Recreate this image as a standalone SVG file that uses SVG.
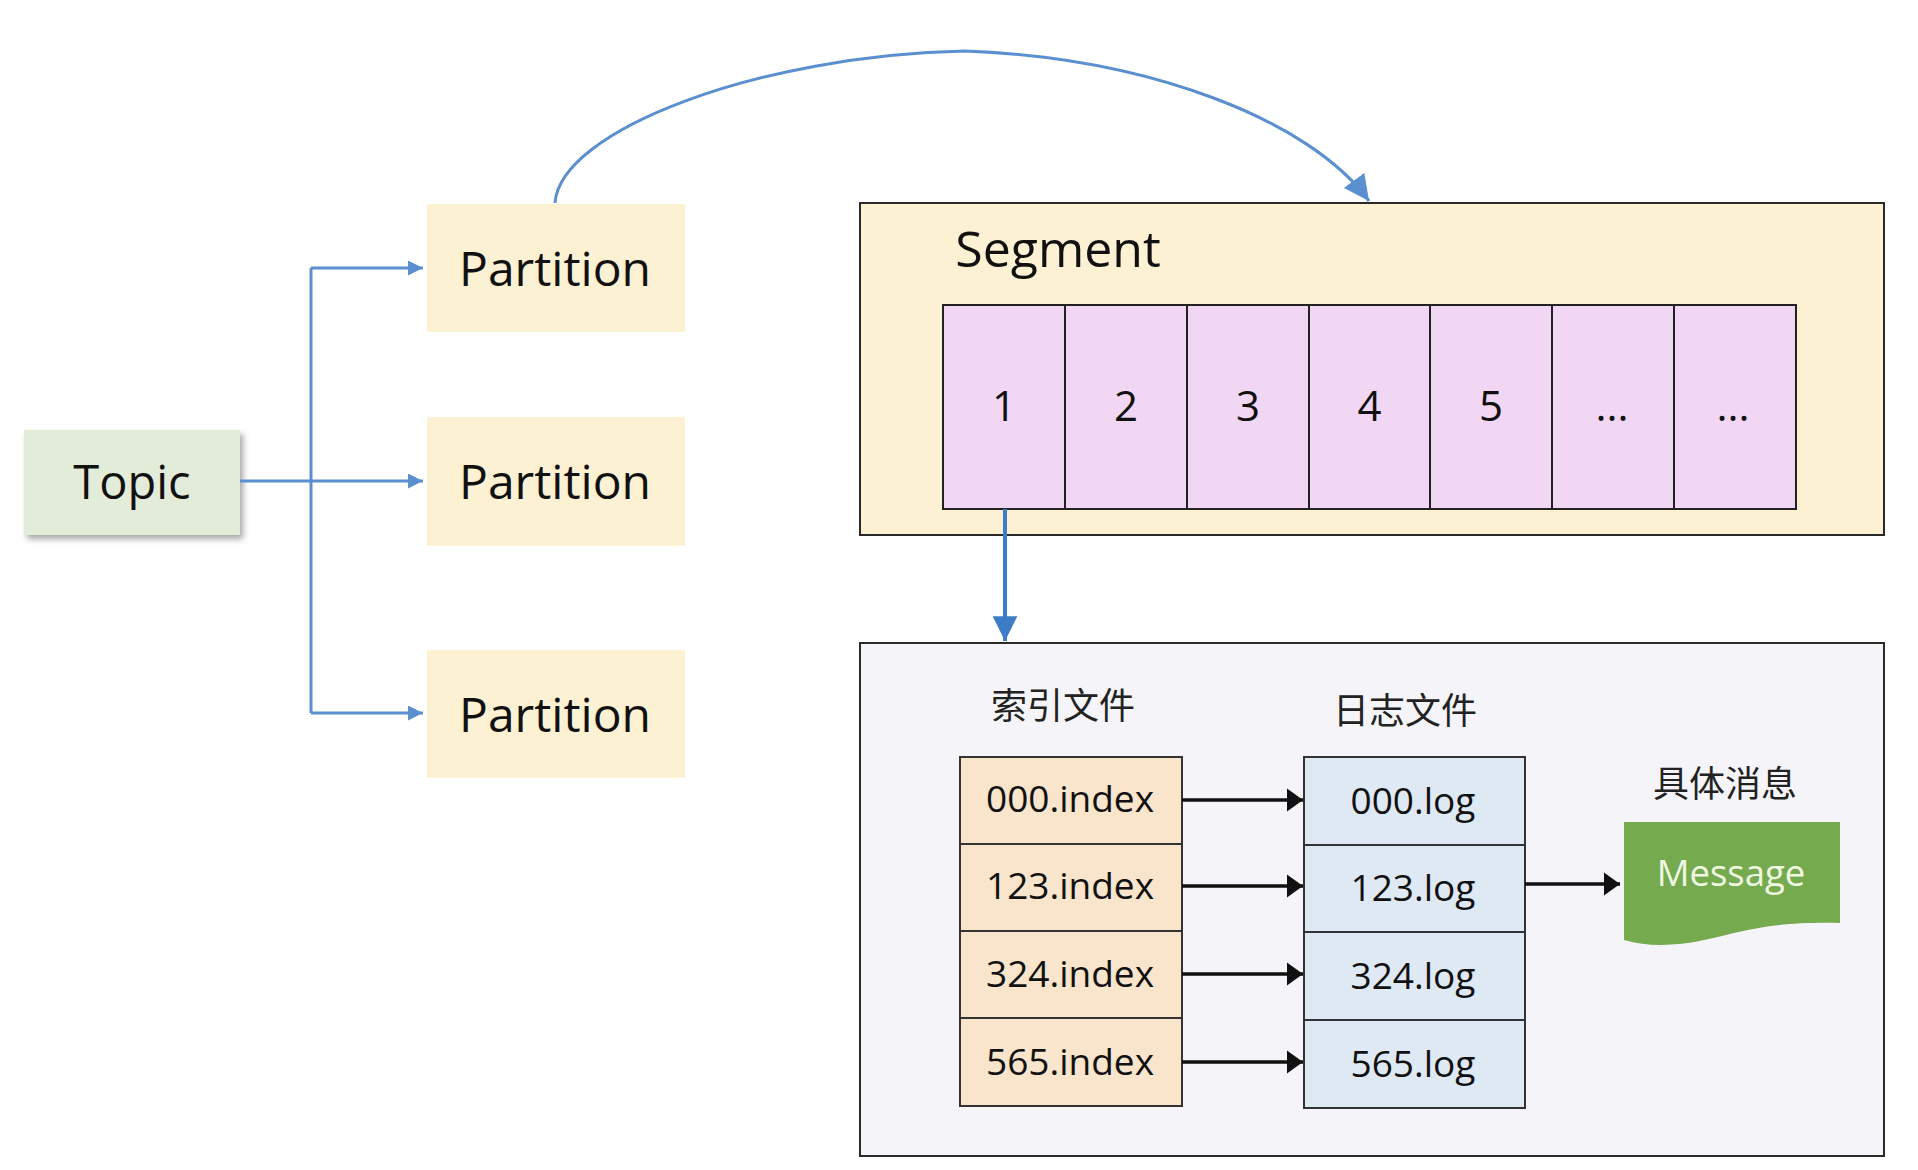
<svg xmlns="http://www.w3.org/2000/svg" width="1918" height="1170" viewBox="0 0 1918 1170">
<style>
.lat{font-family:"Open Sans","Noto Sans","Liberation Sans",sans-serif;fill:#111;text-anchor:middle}
.cjk{font-family:"Noto Sans CJK SC","Noto Sans",sans-serif;fill:#222;text-anchor:middle;font-size:36px}
.part{fill:#fdf1d3}
.cell{fill:#f2d7f4;stroke:#222;stroke-width:2}
.idx{fill:#f9e4cc;stroke:#333;stroke-width:2}
.log{fill:#dfe9f4;stroke:#333;stroke-width:2}
.blue{fill:none;stroke:#5b8fd0;stroke-width:3}
.blk{fill:none;stroke:#111;stroke-width:3.5}
</style>
<defs>
<marker id="ab" viewBox="0 0 10 10" refX="10" refY="5" markerWidth="5" markerHeight="5" markerUnits="strokeWidth" orient="auto"><path d="M0,0 L10,5 L0,10 z" fill="#5b8fd0"/></marker>
<marker id="abig" viewBox="0 0 10 10" refX="10" refY="5" markerWidth="8.5" markerHeight="8.5" markerUnits="strokeWidth" orient="auto"><path d="M0,0 L10,5 L0,10 z" fill="#5b8fd0"/></marker>
<marker id="adown" viewBox="0 0 10 10" refX="10" refY="5" markerWidth="6.2" markerHeight="6.2" markerUnits="strokeWidth" orient="auto"><path d="M0,0 L10,5 L0,10 z" fill="#3d7cc6"/></marker>
<marker id="ak" viewBox="0 0 10 10" refX="10" refY="5" markerWidth="4.6" markerHeight="6.6" markerUnits="strokeWidth" orient="auto" preserveAspectRatio="none"><path d="M0,0 L10,5 L0,10 z" fill="#111"/></marker>
<filter id="sh" x="-10%" y="-10%" width="130%" height="140%"><feDropShadow dx="3" dy="4" stdDeviation="3" flood-color="#000" flood-opacity="0.35"/></filter>
</defs>
<rect width="1918" height="1170" fill="#ffffff"/>

<g id="topic">
<rect x="24" y="430" width="216" height="105" fill="#e3ebd9" filter="url(#sh)"/>
<text class="lat" x="132" y="499" font-size="47">Topic</text>
</g>
<g id="partition1">
<rect class="part" x="427" y="204" width="258" height="128"/>
<text class="lat" x="555" y="286" font-size="48">Partition</text>
</g>
<g id="partition2">
<rect class="part" x="427" y="417" width="258" height="129"/>
<text class="lat" x="555" y="499" font-size="48">Partition</text>
</g>
<g id="partition3">
<rect class="part" x="427" y="650" width="258" height="128"/>
<text class="lat" x="555" y="732" font-size="48">Partition</text>
</g>

<g id="segment">
<rect x="860" y="203" width="1024" height="332" fill="#fcf1d2" stroke="#2a2a2a" stroke-width="2"/>
<text class="lat" x="1058" y="267" font-size="50">Segment</text>
<rect class="cell" x="943" y="305" width="122" height="204"/>
<rect class="cell" x="1065" y="305" width="122" height="204"/>
<rect class="cell" x="1187" y="305" width="122" height="204"/>
<rect class="cell" x="1309" y="305" width="121" height="204"/>
<rect class="cell" x="1430" y="305" width="122" height="204"/>
<rect class="cell" x="1552" y="305" width="122" height="204"/>
<rect class="cell" x="1674" y="305" width="122" height="204"/>
<g class="lat" font-size="42">
<text x="1004" y="421">1</text>
<text x="1126" y="421">2</text>
<text x="1248" y="421">3</text>
<text x="1369.5" y="421">4</text>
<text x="1491" y="421">5</text>
<text x="1612" y="421">...</text>
<text x="1733" y="421">...</text>
</g>
</g>

<g id="files">
<rect x="860" y="643" width="1024" height="513" fill="#f5f4f8" stroke="#2a2a2a" stroke-width="2"/>
<text class="cjk" x="1063" y="719">索引文件</text>
<text class="cjk" x="1405" y="724">日志文件</text>
<text class="cjk" x="1725" y="797">具体消息</text>
</g>

<g id="index-files">
<rect class="idx" x="960" y="757" width="222" height="87"/>
<rect class="idx" x="960" y="844" width="222" height="87"/>
<rect class="idx" x="960" y="931" width="222" height="87"/>
<rect class="idx" x="960" y="1018" width="222" height="88"/>
<g class="lat" font-size="37">
<text x="1070" y="812">000.index</text>
<text x="1070" y="899">123.index</text>
<text x="1070" y="987">324.index</text>
<text x="1070" y="1075">565.index</text>
</g>
</g>

<g id="log-files">
<rect class="log" x="1304" y="757" width="221" height="88"/>
<rect class="log" x="1304" y="845" width="221" height="87"/>
<rect class="log" x="1304" y="932" width="221" height="88"/>
<rect class="log" x="1304" y="1020" width="221" height="88"/>
<g class="lat" font-size="37">
<text x="1413" y="814">000.log</text>
<text x="1413" y="901">123.log</text>
<text x="1413" y="989">324.log</text>
<text x="1413" y="1077">565.log</text>
</g>
</g>

<g id="message">
<path d="M1624,822 H1840 V923 C1790,922 1762,926 1722,936 C1682,946 1652,948 1624,940 Z" fill="#76aa4f"/>
<text class="lat" x="1731" y="886" font-size="36.5" style="fill:#eef8e2">Message</text>
</g>

<g id="connectors">
<path class="blue" d="M240,481 H311 M311,268 V713"/>
<path class="blue" d="M311,268 H423" marker-end="url(#ab)"/>
<path class="blue" d="M311,481 H423" marker-end="url(#ab)"/>
<path class="blue" d="M311,713 H423" marker-end="url(#ab)"/>
<path class="blue" d="M555,203 C560,130 760,55 965,51 C1150,58 1310,120 1369,201" marker-end="url(#abig)"/>
<path d="M1005,509 V641" fill="none" stroke="#3d7cc6" stroke-width="4" marker-end="url(#adown)"/>
<path class="blk" d="M1182,800 H1303" marker-end="url(#ak)"/>
<path class="blk" d="M1182,886 H1303" marker-end="url(#ak)"/>
<path class="blk" d="M1182,974 H1303" marker-end="url(#ak)"/>
<path class="blk" d="M1182,1062 H1303" marker-end="url(#ak)"/>
<path class="blk" d="M1525,884 H1620" marker-end="url(#ak)"/>
</g>
</svg>
